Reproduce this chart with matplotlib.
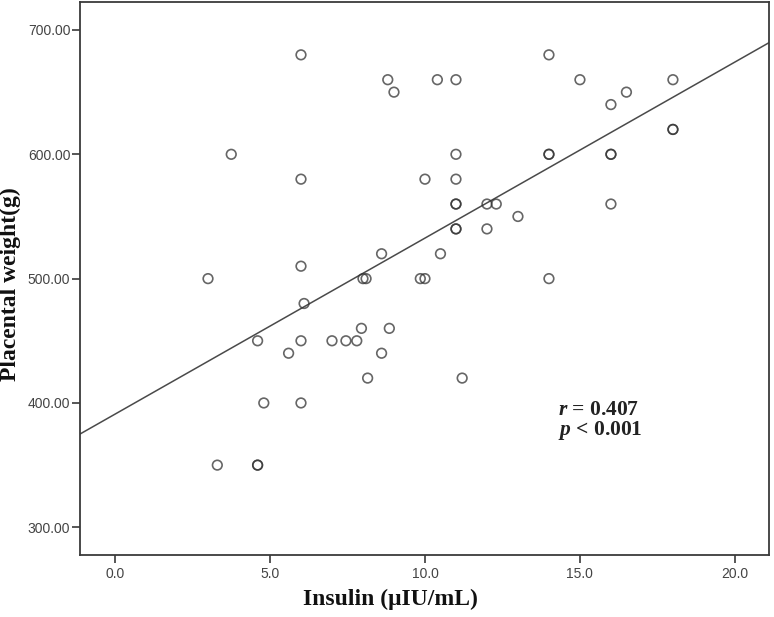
import numpy as np
import matplotlib
matplotlib.use("Agg")
import matplotlib.pyplot as plt

# ---- data ----
insulin = [6.0, 8.8, 9.0, 10.4, 11.0, 14.0, 15.0, 16.0, 16.5, 18.0, 18.0, 18.0,
           3.75, 6.0, 11.0, 14.0, 14.0, 16.0, 16.0, 10.0, 11.0,
           11.0, 11.0, 12.0, 12.3, 13.0, 16.0, 11.0, 11.0, 12.0,
           10.5, 8.6, 3.0, 6.0, 8.0, 8.1, 9.85, 10.0, 14.0, 6.1,
           4.6, 5.6, 6.0, 7.0, 7.45, 7.8, 7.95, 8.85, 8.6, 8.15, 11.2,
           4.8, 6.0, 3.3, 4.6, 4.6]
placental = [680, 660, 650, 660, 660, 680, 660, 640, 650, 660, 620, 620,
             600, 580, 600, 600, 600, 600, 600, 580, 580,
             560, 560, 560, 560, 550, 560, 540, 540, 540,
             520, 520, 500, 510, 500, 500, 500, 500, 500, 480,
             450, 440, 450, 450, 450, 450, 460, 460, 440, 420, 420,
             400, 400, 350, 350, 350]
fit_intercept = 391.0
fit_slope = 14.16
x_ticks = [0.0, 5.0, 10.0, 15.0, 20.0]
y_ticks = [300, 400, 500, 600, 700]
xlim = (-1.13, 21.1)
ylim = (277.7, 722.5)
annot_r = "0.407"
annot_p = "0.001"

plt.rcParams['mathtext.fontset'] = 'custom'
plt.rcParams['mathtext.it'] = 'Liberation Serif:italic:bold'
plt.rcParams['mathtext.rm'] = 'Liberation Serif:bold'

fig = plt.figure(figsize=(7.74, 6.17), dpi=100)
ax = fig.add_axes([80/774, 1-555/617, 689/774, 553/617])

dark = '#3a3a3a'
ax.scatter(insulin, placental, s=48, facecolors='none', edgecolors='#333333',
           linewidths=1.2, alpha=0.75, zorder=3)

xs = np.array(xlim)
ax.plot(xs, fit_intercept + fit_slope * xs, color='#4a4a4a', lw=1.1, zorder=2)

ax.set_xlim(*xlim)
ax.set_ylim(*ylim)
ax.set_xticks(x_ticks)
ax.set_xticklabels([f"{v:.1f}" for v in x_ticks])
ax.set_yticks(y_ticks)
ax.set_yticklabels([f"{v:.2f}" for v in y_ticks])

for sp in ax.spines.values():
    sp.set_color(dark)
    sp.set_linewidth(1.3)

ax.tick_params(axis='both', direction='out', length=6, width=1.2, color=dark,
               labelcolor='#444444', labelsize=10)
ax.tick_params(axis='y', pad=1)
ax.tick_params(axis='x', pad=3)
for lab in ax.get_xticklabels() + ax.get_yticklabels():
    lab.set_family('Liberation Sans')

ax.set_xlabel("Insulin (μIU/mL)", family='Liberation Serif', weight='bold',
              fontsize=17, color='#111111')
ax.xaxis.set_label_coords((390-80)/689, -(589-555)/553)
ax.set_ylabel("Placental weight(g)", family='Liberation Serif', weight='bold',
              fontsize=17, color='#111111')
ax.yaxis.set_label_coords(-(80-21)/689, 0.49)

ax.text(14.28, 385.5, r"$r$ = " + annot_r + "\n" + r"$p$ < " + annot_p,
        family='Liberation Serif', weight='bold', linespacing=0.95,
        fontsize=15.5, color='#222222', va='center', ha='left')

fig.savefig("out.png", dpi=100)
